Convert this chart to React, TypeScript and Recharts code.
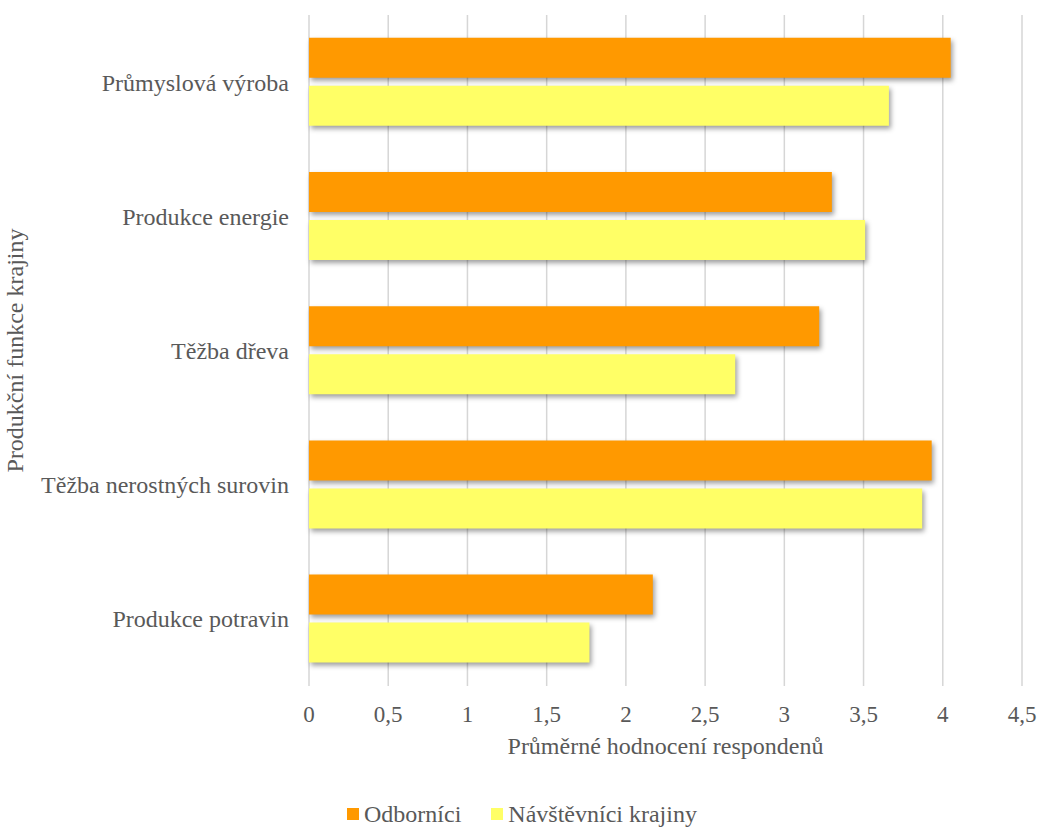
import { Bar, BarChart, CartesianGrid, Label, Legend, XAxis, YAxis } from 'recharts';

const categories = [
  'Průmyslová výroba',
  'Produkce energie',
  'Těžba dřeva',
  'Těžba nerostných surovin',
  'Produkce potravin',
];
const odbornici = [4.05, 3.3, 3.22, 3.93, 2.17];
const navstevnici = [3.66, 3.51, 2.69, 3.87, 1.77];
const xTicks = [0, 0.5, 1, 1.5, 2, 2.5, 3, 3.5, 4, 4.5];
const seriesOrder = ['Odborníci', 'Návštěvníci krajiny'];

const data = categories.map((name, i) => ({
  name,
  odbornici: odbornici[i],
  navstevnici: navstevnici[i],
}));

const FONT = 'Liberation Serif, DejaVu Serif, serif';
const TEXT = '#595959';
const shadow = { filter: 'drop-shadow(2px 3px 2.5px rgba(0,0,0,0.38))' };

const fmt = (v: number) => String(v).replace('.', ',');

function YTitle(props: any) {
  const vb = props.viewBox || {};
  const cx = 15;
  const cy = vb.y + vb.height / 2;
  return (
    <text
      x={cx}
      y={cy}
      transform={`rotate(-90 ${cx} ${cy})`}
      textAnchor="middle"
      dominantBaseline="central"
      fill={TEXT}
      fontSize={24}
      style={{ fontFamily: FONT }}
    >
      Produkční funkce krajiny
    </text>
  );
}

function LegendContent(props: any) {
  const payload = [...(props.payload || [])].sort(
    (a: any, b: any) => seriesOrder.indexOf(a.value) - seriesOrder.indexOf(b.value)
  );
  return (
    <div
      style={{
        display: 'flex',
        justifyContent: 'center',
        fontFamily: FONT,
        fontSize: 24,
        color: TEXT,
        lineHeight: '28px',
        paddingLeft: 22,
        paddingTop: 1,
      }}
    >
      {payload.map((p: any, i: number) => (
        <div key={i} style={{ display: 'flex', alignItems: 'center', marginRight: i === 0 ? 30 : 0, height: 28 }}>
          <span style={{ width: 12, height: 12, background: p.color, display: 'inline-block', marginRight: 5 }} />
          <span>{p.value}</span>
        </div>
      ))}
    </div>
  );
}

export default function App() {
  const tickStyle = { fill: TEXT, fontSize: 23, style: { fontFamily: FONT } };
  const catStyle = { fill: TEXT, fontSize: 24, style: { fontFamily: FONT } };
  return (
    <div style={{ position: 'absolute', left: 0, top: 0, background: '#fff', fontFamily: FONT }}>
      <BarChart
        width={1040}
        height={829}
        data={data}
        layout="vertical"
        margin={{ top: 15, right: 18, left: 0, bottom: 0 }}
        barCategoryGap="17%"
        barGap={8}
        style={{ fontFamily: FONT }}
      >
        <CartesianGrid horizontal={false} stroke="#d6d6d6" strokeWidth={1.5} />
        <XAxis
          type="number"
          domain={[0, 4.5]}
          ticks={xTicks}
          tickFormatter={fmt}
          axisLine={false}
          tickLine={false}
          tickSize={0}
          tickMargin={20}
          height={113}
          tick={tickStyle}
          interval={0}
        >
          <Label
            value="Průměrné hodnocení respondenů"
            position="insideTop"
            offset={51}
            fill={TEXT}
            fontSize={24}
            style={{ fontFamily: FONT }}
          />
        </XAxis>
        <YAxis
          type="category"
          dataKey="name"
          width={309}
          axisLine={false}
          tickLine={false}
          tickSize={0}
          tickMargin={20}
          tick={catStyle}
          interval={0}
        >
          <Label content={<YTitle />} />
        </YAxis>
        <Legend verticalAlign="bottom" height={30} content={<LegendContent />} />
        <Bar dataKey="odbornici" name="Odborníci" fill="#FF9900" style={shadow} isAnimationActive={false} />
        <Bar dataKey="navstevnici" name="Návštěvníci krajiny" fill="#FFFF66" style={shadow} isAnimationActive={false} />
      </BarChart>
    </div>
  );
}
